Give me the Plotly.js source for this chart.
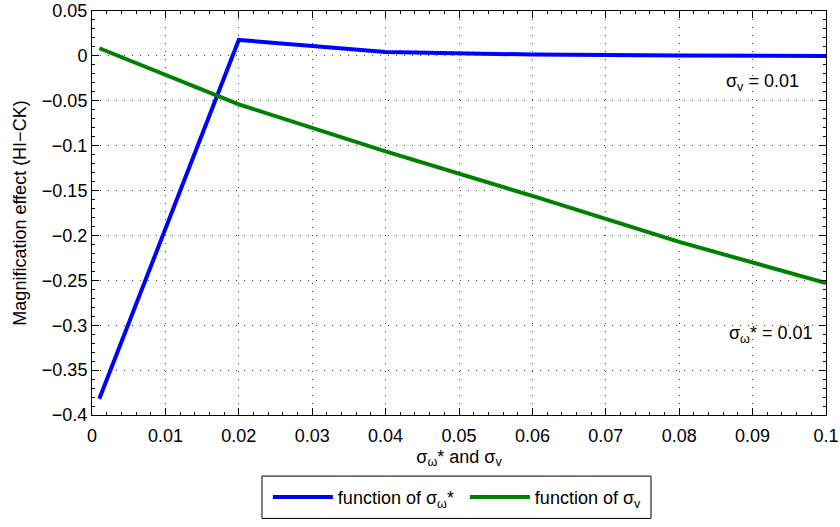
<!DOCTYPE html>
<html>
<head>
<meta charset="utf-8">
<script src="https://cdn.plot.ly/plotly-3.0.1.min.js"></script>
<style>
html,body{margin:0;padding:0;background:#fff;}
#chart{width:840px;height:527px;}
</style>
</head>
<body>
<div id="chart"></div>
<script>
// x values (sigma_omega* for blue, sigma_v for green)
const sigmaValues = [0.001, 0.02, 0.04, 0.06, 0.08, 0.1];
// Magnification effect as function of sigma_omega* (sigma_v = 0.01)
const effectVsSigmaOmega = [-0.382, 0.0178, 0.0044, 0.0015, 0.0003, 0.0];
// Magnification effect as function of sigma_v (sigma_omega* = 0.01)
const effectVsSigmaV = [0.0085, -0.054, -0.1064, -0.156, -0.2072, -0.253];

const seriesNames = ["function of σ<sub>ω</sub>*", "function of σ<sub>v</sub>"];
const xTitle = "σ<sub>ω</sub>* and σ<sub>v</sub>";
const yTitle = "Magnification effect (HI−CK)";
const noteLabels = ["σ<sub>v</sub> = 0.01", "σ<sub>ω</sub>* = 0.01"];

const FONT = "'Liberation Sans', Arial, Helvetica, sans-serif";
const FS = 18;

const traces = [
  {x: sigmaValues, y: effectVsSigmaOmega, type: 'scatter', mode: 'lines',
   name: seriesNames[0], line: {color: '#0000ff', width: 4}},
  {x: sigmaValues, y: effectVsSigmaV, type: 'scatter', mode: 'lines',
   name: seriesNames[1], line: {color: '#008000', width: 4}}
];

const axisCommon = {
  showline: true, linecolor: '#000', linewidth: 1, mirror: 'allticks',
  ticks: 'inside', ticklen: 7, tickcolor: '#000', tickwidth: 1,
  showgrid: true, gridcolor: 'rgba(0,0,0,0.75)', gridwidth: 1, griddash: '1px,7px',
  zeroline: false, tickfont: {family: FONT, size: FS, color: '#000'}
};

const layout = {
  width: 840, height: 527,
  margin: {l: 92, r: 14, t: 11, b: 106},
  paper_bgcolor: '#fff', plot_bgcolor: '#fff',
  font: {family: FONT, size: FS, color: '#000'},
  showlegend: true,
  xaxis: Object.assign({}, axisCommon, {
    range: [0, 0.1], dtick: 0.01, tick0: 0, ticklabelstandoff: 4,
    minor: {ticks: 'inside', ticklen: 3, dtick: 0.002, tickcolor: '#000', showgrid: false},
    title: {text: xTitle, font: {family: FONT, size: FS}, standoff: 5}
  }),
  yaxis: Object.assign({}, axisCommon, {
    range: [-0.4, 0.05], dtick: 0.05, tick0: 0,
    minor: {ticks: 'inside', ticklen: 3, dtick: 0.01, tickcolor: '#000', showgrid: false},
    title: {text: yTitle, font: {family: FONT, size: FS}, standoff: 10}
  }),
  legend: {
    orientation: 'h', x: 0.508, xanchor: 'center', y: -0.2037, yanchor: 'middle',
    borderwidth: 0, bgcolor: 'rgba(0,0,0,0)',
    font: {family: FONT, size: FS}, itemwidth: 60, entrywidth: 122
  },
  shapes: [
    {type: 'rect', xref: 'paper', yref: 'paper',
     x0: 0.2316, x1: 0.7616, y0: -0.1512, y1: -0.2560,
     line: {color: '#000', width: 1}, fillcolor: 'rgba(0,0,0,0)', layer: 'below'}
  ],
  annotations: [
    {x: 0.0861, y: -0.0297, xref: 'x', yref: 'y', xanchor: 'left', yanchor: 'middle',
     text: noteLabels[0], showarrow: false, font: {family: FONT, size: FS}},
    {x: 0.0865, y: -0.31, xref: 'x', yref: 'y', xanchor: 'left', yanchor: 'middle',
     text: noteLabels[1], showarrow: false, font: {family: FONT, size: FS}}
  ]
};

Plotly.newPlot('chart', traces, layout, {displayModeBar: false, staticPlot: true});
</script>
</body>
</html>
